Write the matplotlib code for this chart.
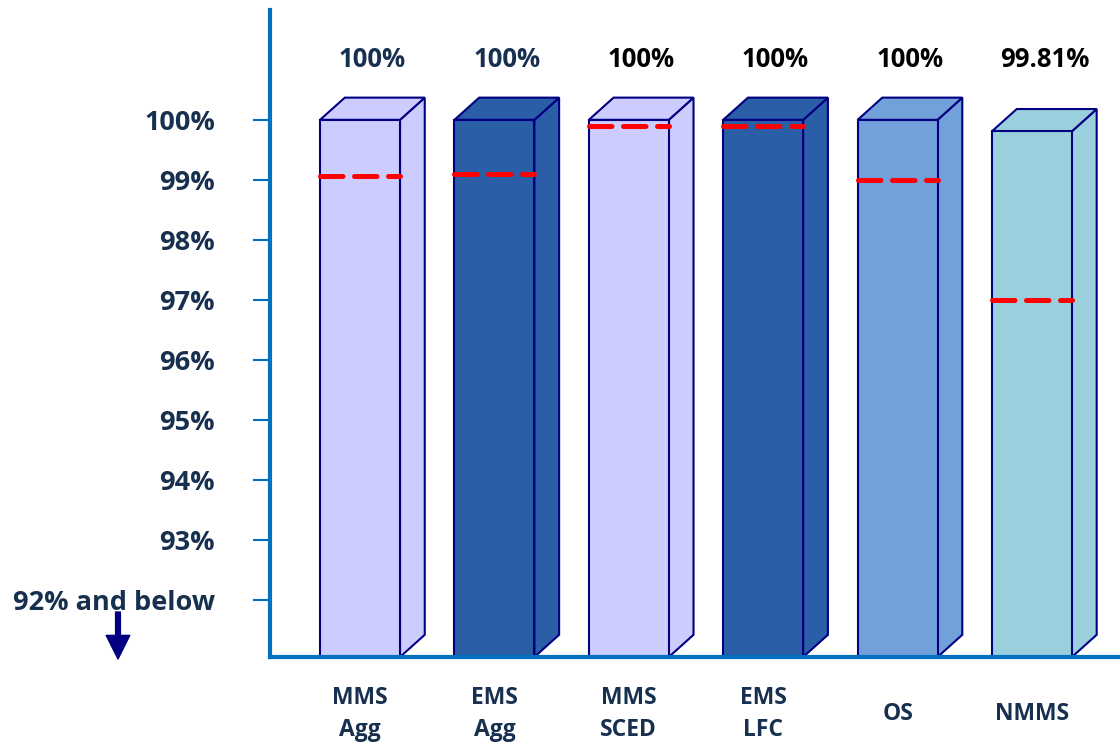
import matplotlib
matplotlib.use("Agg")
from matplotlib import pyplot as plt
from matplotlib.patches import Polygon

plt.rcParams['font.family'] = ['Open Sans', 'DejaVu Sans']
plt.rcParams['font.weight'] = 'bold'

categories = ["MMS\nAgg", "EMS\nAgg", "MMS\nSCED", "EMS\nLFC", "OS", "NMMS"]
availability = [100, 100, 100, 100, 100, 99.81]
targets = [99.07, 99.1, 99.9, 99.9, 99.0, 97.0]
value_labels = ["100%", "100%", "100%", "100%", "100%", "99.81%"]
bar_colors = ["#CCCCFF", "#2A5EA6", "#CCCCFF", "#2A5EA6", "#72A0DB", "#9AD0DE"]
label_colors = ["#17304F", "#17304F", "black", "black", "black", "black"]
ytick_values = [92, 93, 94, 95, 96, 97, 98, 99, 100]
ytick_labels = ["92% and below", "93%", "94%", "95%", "96%", "97%", "98%", "99%", "100%"]

navy = "#000080"
axis_blue = "#0070C0"
text_dark = "#17304F"

fig = plt.figure(figsize=(11.2, 7.52), dpi=100)
ax = fig.add_axes([270 / 1120, 95 / 752, 850 / 1120, 647 / 752])

ymin, ymax = 91.05, 101.83
ax.set_xlim(-0.67, 5.655)
ax.set_ylim(ymin, ymax)

w = 0.595   # front width
dx = 0.184  # depth in x
dy = 0.37   # depth in y

for i, v in enumerate(availability):
    x0, x1 = i - w / 2, i + w / 2
    c = bar_colors[i]
    front = Polygon([(x0, ymin), (x1, ymin), (x1, v), (x0, v)],
                    facecolor=c, edgecolor=navy, lw=1.5, zorder=2)
    top = Polygon([(x0, v), (x1, v), (x1 + dx, v + dy), (x0 + dx, v + dy)],
                  facecolor=c, edgecolor=navy, lw=1.5, zorder=2)
    side = Polygon([(x1, ymin), (x1, v), (x1 + dx, v + dy), (x1 + dx, ymin + dy)],
                   facecolor=c, edgecolor=navy, lw=1.5, zorder=2)
    for p in (side, top, front):
        ax.add_patch(p)
    ax.plot([x0, x1], [targets[i], targets[i]], color="#FF0000", lw=3.6,
            dashes=(4.5, 2.3), solid_capstyle='round', dash_capstyle='round', zorder=3)
    ax.text(i + dx / 2, 101.0, value_labels[i], ha='center', va='center',
            fontsize=18.5, fontweight='bold', color=label_colors[i])
    ax.text(i, -0.088, categories[i], transform=ax.get_xaxis_transform(),
            ha='center', va='center', fontsize=16.5, fontweight='bold',
            color=text_dark, linespacing=1.45)

ax.set_yticks(ytick_values)
ax.set_yticklabels(ytick_labels, fontsize=19.5, fontweight='bold', color=text_dark)
ax.tick_params(axis='y', length=12.5, width=1.5, color=axis_blue, pad=27)
ax.set_xticks([])

for s in ['top', 'right']:
    ax.spines[s].set_visible(False)
for s in ['left', 'bottom']:
    ax.spines[s].set_color(axis_blue)
    ax.spines[s].set_linewidth(3)
    ax.spines[s].set_zorder(4)

# arrow under "92% and below"
ax.annotate("", xy=(118, 752 - 659), xytext=(118, 752 - 612),
            xycoords='figure pixels', textcoords='figure pixels',
            arrowprops=dict(width=3.5, headwidth=17, headlength=17,
                            color=navy, shrink=0))

fig.savefig("out.png", dpi=100)
